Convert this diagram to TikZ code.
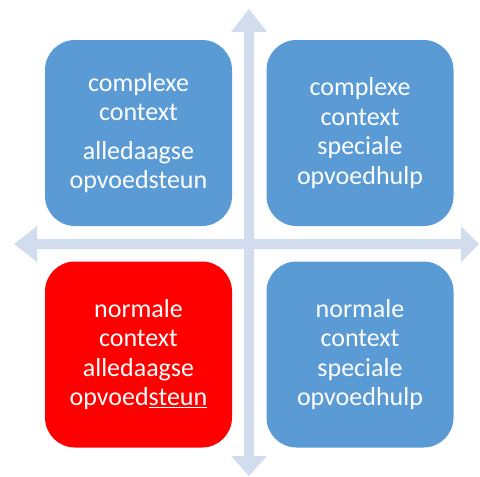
\documentclass[tikz,border=0pt]{standalone}
\usepackage{fontspec}
\setmainfont{Carlito}
\definecolor{boxblue}{RGB}{91,155,213}
\definecolor{boxred}{RGB}{255,0,0}
\definecolor{axiscol}{RGB}{209,221,238}
\begin{document}
\begin{tikzpicture}[x=1pt,y=-1pt,
  quad/.style={rounded corners=30pt, minimum width=187pt, minimum height=186pt,
    inner sep=0pt, text=white, align=center,
    font=\fontsize{26pt}{29.5pt}\selectfont},
  axisfill/.style={fill=axiscol, draw=none}]
\useasboundingbox (0,0) rectangle (480,477);
% horizontal double arrow
\fill[axisfill] (14,244) -- (37,226) -- (37,239) -- (461,239) -- (461,226) -- (479,244)
  -- (461,262) -- (461,249) -- (37,249) -- (37,262) -- cycle;
% vertical double arrow
\fill[axisfill] (249,9) -- (267,32) -- (254,32) -- (254,456) -- (267,456) -- (249,476)
  -- (231,456) -- (244,456) -- (244,32) -- (231,32) -- cycle;
\node[quad, fill=boxblue] (tl) at (138.5,133) {complexe\\ context\\[9pt] alledaagse\\ opvoedsteun};
\node[quad, fill=boxblue] (tr) at (360,133) {complexe\\ context\\ speciale\\ opvoedhulp};
\node[quad, fill=boxred] (bl) at (138.5,354.5) {normale\\ context\\ alledaagse\\ opvoed\underline{steun}};
\node[quad, fill=boxblue] (br) at (360,354.5) {normale\\ context\\ speciale\\ opvoedhulp};
\end{tikzpicture}
\end{document}
